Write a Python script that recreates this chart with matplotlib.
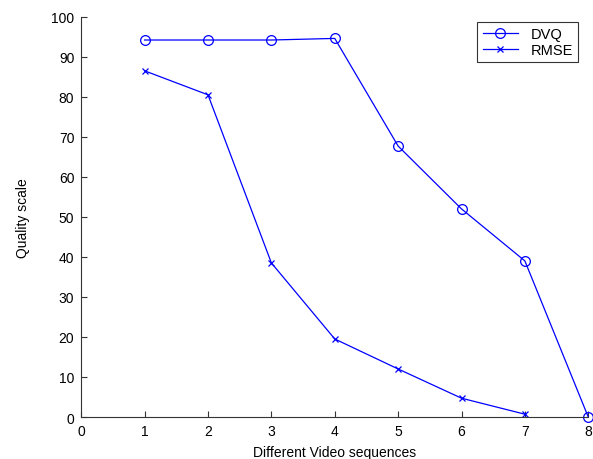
import matplotlib
matplotlib.use("Agg")
from matplotlib import pyplot as plt

plt.rcParams['font.family'] = ['Liberation Sans', 'DejaVu Sans']

sequences = [1, 2, 3, 4, 5, 6, 7, 8]
dvq = [94.2, 94.2, 94.2, 94.6, 67.7, 52, 39, 0]
rmse_seq = [1, 2, 3, 4, 5, 6, 7]
rmse = [86.5, 80.5, 38.5, 19.5, 12, 4.7, 0.7]

fig = plt.figure(figsize=(5.93, 4.6), dpi=100)
ax = fig.add_axes([0.137, 0.0913, 0.855, 0.87])

ax.plot(sequences, dvq, color='#0000ff', linewidth=0.9, marker='o',
        markersize=7, markerfacecolor='none', markeredgewidth=0.9, label='DVQ', clip_on=False)
ax.plot(rmse_seq, rmse, color='#0000ff', linewidth=0.9, marker='x',
        markersize=5, markeredgewidth=0.9, label='RMSE', clip_on=False)

ax.set_xlim(0, 8)
ax.set_ylim(0, 100)
ax.set_xticks(range(0, 9))
ax.set_yticks(range(0, 101, 10))
ax.spines['top'].set_visible(False)
ax.spines['right'].set_visible(False)
ax.spines['left'].set_color('#333333')
ax.spines['bottom'].set_color('#333333')
ax.tick_params(direction='in', length=4, labelsize=10, colors='#333333', labelcolor='black', pad=5)
ax.set_xlabel('Different Video sequences', fontsize=10, labelpad=5)
ax.set_ylabel('Quality scale', fontsize=10, labelpad=15)

leg = ax.legend(loc='upper right', bbox_to_anchor=(0.98, 0.988), fancybox=False,
                edgecolor='black', fontsize=10.5, borderpad=0.35, handlelength=2.4,
                labelspacing=0.15, handletextpad=0.9, borderaxespad=0.0)
leg.get_frame().set_linewidth(0.8)

fig.savefig('out.png', dpi=100)
